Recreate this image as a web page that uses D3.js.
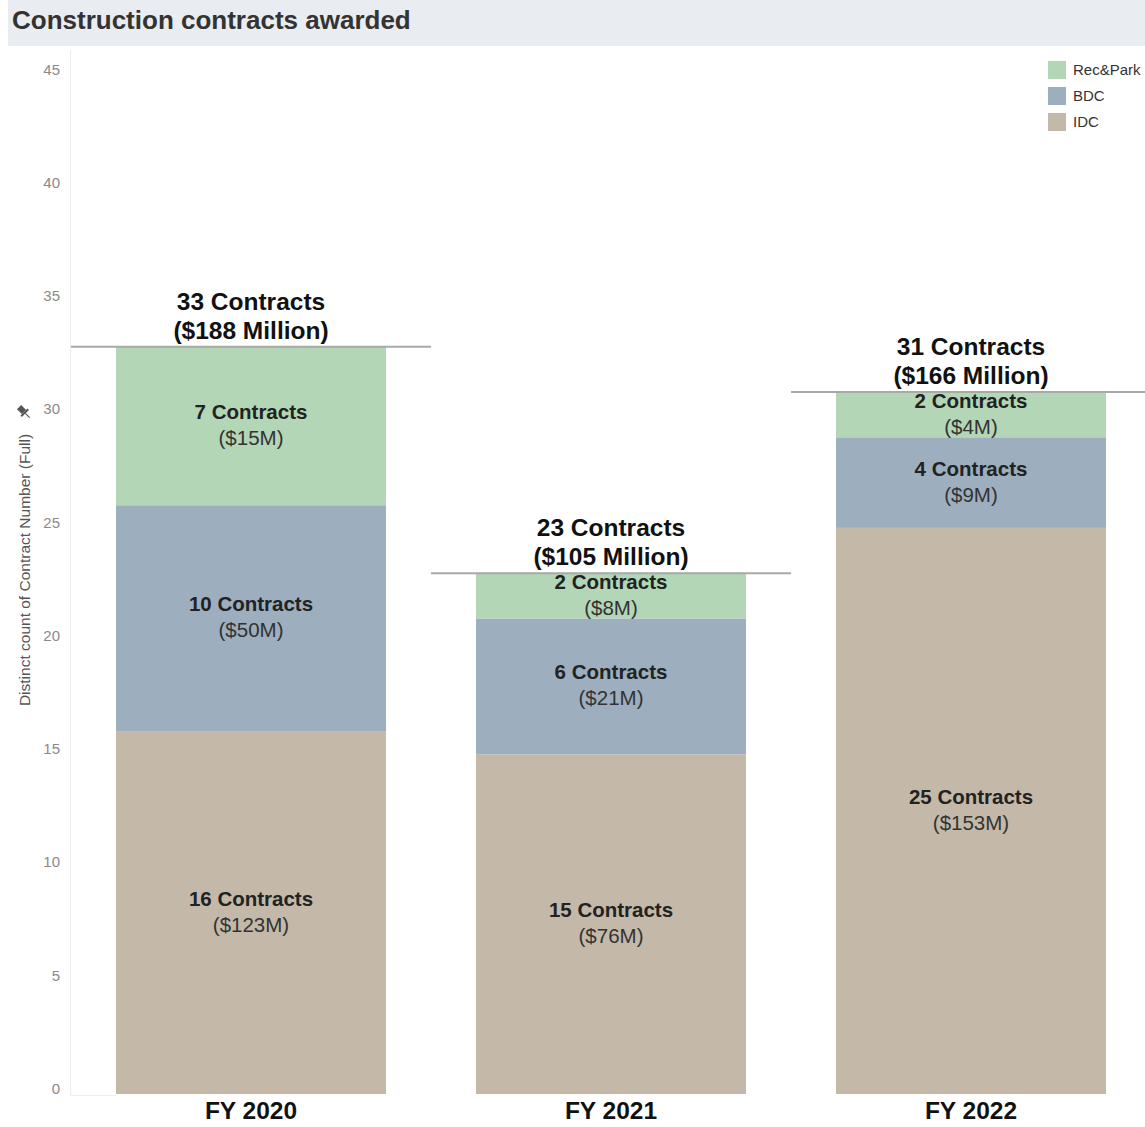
<!DOCTYPE html>
<html>
<head>
<meta charset="utf-8">
<script src="https://cdn.jsdelivr.net/npm/d3@7"></script>
<style>
  html, body { margin: 0; padding: 0; background: #fff; }
  svg { display: block; font-family: "Liberation Sans", Arial, sans-serif; }
  svg text { font-family: "Liberation Sans", Arial, sans-serif; }
</style>
</head>
<body>
<svg id="chart" width="1145" height="1127"></svg>
<script>
const years = ["FY 2020", "FY 2021", "FY 2022"];
const seriesNames = ["IDC", "BDC", "Rec&Park"];
const idcCounts = [16, 15, 25];
const bdcCounts = [10, 6, 4];
const recCounts = [7, 2, 2];
const idcDollars = [123, 76, 153];
const bdcDollars = [50, 21, 9];
const recDollars = [15, 8, 4];
const totalCounts = [33, 23, 31];
const totalDollars = [188, 105, 166];
const yTicks = [0, 5, 10, 15, 20, 25, 30, 35, 40, 45];
const legendOrder = ["Rec&Park", "BDC", "IDC"];

const colors = { "IDC": "#c4b9a9", "BDC": "#9daebe", "Rec&Park": "#b3d6b6" };
const FONT = "'Liberation Sans', Arial, sans-serif";

const svg = d3.select("#chart");

// Title bar
svg.append("rect").attr("x", 8).attr("y", 0).attr("width", 1137).attr("height", 46).attr("fill", "#e9ecf0");
svg.append("text").attr("x", 12).attr("y", 29).attr("font-size", 26).attr("font-weight", "bold")
  .attr("fill", "#333").text("Construction contracts awarded");

const x = d3.scaleBand().domain(years).range([71, 1151]).paddingInner(0.25).paddingOuter(0.125);
const y = d3.scaleLinear().domain([0, 45]).range([1094, 75]);

// Data table
const table = years.map((yr, i) => ({
  year: yr,
  "IDC": idcCounts[i], "BDC": bdcCounts[i], "Rec&Park": recCounts[i],
  dollars: { "IDC": idcDollars[i], "BDC": bdcDollars[i], "Rec&Park": recDollars[i] },
  total: totalCounts[i], totalD: totalDollars[i]
}));
const stacked = d3.stack().keys(seriesNames)(table);

// Y axis
svg.append("line").attr("x1", 70.5).attr("x2", 70.5).attr("y1", 50).attr("y2", 1096)
  .attr("stroke", "#ececec").attr("stroke-width", 1);
svg.append("line").attr("x1", 70).attr("x2", 116).attr("y1", 1095.5).attr("y2", 1095.5)
  .attr("stroke", "#eeeeee").attr("stroke-width", 1);
const yAxis = d3.axisLeft(y).tickValues(yTicks).tickSize(0).tickPadding(0);
const gy = svg.append("g").attr("transform", "translate(60,0)").call(yAxis)
  .attr("font-family", FONT).attr("font-size", 15);
gy.select(".domain").remove();
gy.selectAll("text").attr("font-size", 15).attr("fill", "#8a8a8a").attr("dy", "-0.05em");

// Y title
svg.append("text").attr("transform", "translate(30,570) rotate(-90)")
  .attr("text-anchor", "middle").attr("font-size", 15.5).attr("fill", "#555")
  .text("Distinct count of Contract Number (Full)");
// pin icon
svg.append("g").attr("transform", "translate(24,412) rotate(-45)")
  .call(g => {
    g.append("rect").attr("x", -3).attr("y", -7).attr("width", 6).attr("height", 7).attr("fill", "#555");
    g.append("rect").attr("x", -5).attr("y", 0).attr("width", 10).attr("height", 2).attr("fill", "#555");
    g.append("line").attr("x1", 0).attr("x2", 0).attr("y1", 2).attr("y2", 8).attr("stroke", "#555").attr("stroke-width", 1.2);
  });

// Bars
stacked.forEach(layer => {
  const key = layer.key;
  svg.append("g").selectAll("rect").data(layer).join("rect")
    .attr("x", d => x(d.data.year))
    .attr("width", x.bandwidth())
    .attr("y", d => y(d[1]))
    .attr("height", d => y(d[0]) - y(d[1]))
    .attr("fill", colors[key]);
  // segment labels
  const lg = svg.append("g").selectAll("g").data(layer).join("g")
    .attr("transform", d => `translate(${x(d.data.year) + x.bandwidth() / 2},${y((d[0] + d[1]) / 2)})`);
  lg.append("text").attr("text-anchor", "middle").attr("y", -7).attr("font-size", 20.5)
    .attr("font-weight", "bold").attr("fill", "#222")
    .text(d => `${d.data[key]} Contracts`);
  lg.append("text").attr("text-anchor", "middle").attr("y", 19).attr("font-size", 20.5)
    .attr("fill", "#333")
    .text(d => `($${d.data.dollars[key]}M)`);
});

// Total reference lines and labels
const half = (x.step() - x.bandwidth()) / 2;
const tg = svg.append("g").selectAll("g").data(table).join("g");
tg.append("line")
  .attr("x1", d => x(d.year) - half)
  .attr("x2", d => x(d.year) + x.bandwidth() + half)
  .attr("y1", d => y(d.total)).attr("y2", d => y(d.total))
  .attr("stroke", "#a9a9a9").attr("stroke-width", 2);
tg.append("text").attr("text-anchor", "middle")
  .attr("x", d => x(d.year) + x.bandwidth() / 2)
  .attr("y", d => y(d.total) - 37)
  .attr("font-size", 24.5).attr("font-weight", "bold").attr("fill", "#111")
  .text(d => `${d.total} Contracts`);
tg.append("text").attr("text-anchor", "middle")
  .attr("x", d => x(d.year) + x.bandwidth() / 2)
  .attr("y", d => y(d.total) - 8)
  .attr("font-size", 24.5).attr("font-weight", "bold").attr("fill", "#111")
  .text(d => `($${d.totalD} Million)`);

// X axis labels
const xAxis = d3.axisBottom(x).tickSize(0).tickPadding(0);
const gx = svg.append("g").attr("transform", "translate(0,1102)").call(xAxis)
  .attr("font-family", FONT).attr("font-size", 24.5);
gx.select(".domain").remove();
gx.selectAll("text").attr("font-size", 24.5).attr("font-weight", "bold").attr("fill", "#111");

// Legend
const leg = svg.append("g").selectAll("g").data(legendOrder).join("g")
  .attr("transform", (d, i) => `translate(1048,${61 + i * 26})`);
leg.append("rect").attr("width", 18).attr("height", 18).attr("fill", d => colors[d]);
leg.append("text").attr("x", 25).attr("y", 14).attr("font-size", 15).attr("fill", "#333").text(d => d);
</script>
</body>
</html>
